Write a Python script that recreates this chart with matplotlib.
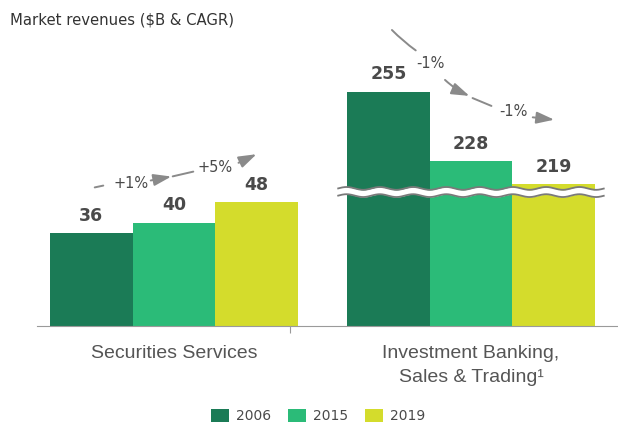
import numpy as np
import matplotlib.pyplot as plt
from matplotlib.patches import Patch, FancyArrowPatch

# data
groups = ["Securities Services", "Investment Banking,\nSales & Trading\u00b9"]
years = ["2006", "2015", "2019"]
sec_services = [36, 40, 48]
ib_trading = [255, 228, 219]
cagr_sec = ["+1%", "+5%"]
cagr_ib = ["-1%", "-1%"]

colors = ["#1b7b56", "#2bbb78", "#d4dc2c"]
text_col = "#4a4a4a"
arrow_col = "#8a8a8a"

# investment banking bars are drawn with a broken axis: this many $B are cut out
ib_cut = 164
break_level = 52

fig = plt.figure(figsize=(6.18, 4.26), dpi=100)
W, H = 618, 426
ax = fig.add_axes([37 / W, 1 - 326 / H, 1 - 37 / W, (326 - 40) / H])

width = 0.278
offsets = [-width, 0, width]
for i, yr in enumerate(years):
    ax.bar(0 + offsets[i], sec_services[i], width=width, color=colors[i], linewidth=0)
    ax.text(0 + offsets[i], sec_services[i] + 3.3, str(sec_services[i]), ha="center", va="bottom",
            fontsize=12.5, fontweight="bold", color=text_col)
    h = ib_trading[i] - ib_cut
    ax.bar(1 + offsets[i], h, width=width, color=colors[i], linewidth=0)
    ax.text(1 + offsets[i], h + 3.3, str(ib_trading[i]), ha="center", va="bottom",
            fontsize=12.5, fontweight="bold", color=text_col)

# wavy break band across the IB group
xs = np.linspace(1 - 1.5 * width - 0.03, 1 + 1.5 * width + 0.03, 400)
wave = 0.55 * np.sin((xs - xs[0]) / 0.112 * 2 * np.pi)
ax.fill_between(xs, break_level + 1.4 + wave, break_level - 1.4 + wave, color="white", zorder=3, linewidth=0)
ax.plot(xs, break_level + 1.4 + wave, color="#7a7a7a", lw=1.3, zorder=4)
ax.plot(xs, break_level - 1.4 + wave, color="#7a7a7a", lw=1.3, zorder=4)

ax.set_xlim(-0.461, 1.495)
ax.set_ylim(0, 111)
for s in ["top", "right", "left"]:
    ax.spines[s].set_visible(False)
ax.spines["bottom"].set_color("#9a9a9a")
ax.set_yticks([])
ax.set_xticks([0.39])
ax.set_xticklabels([""])
ax.tick_params(axis="x", length=5, color="#9a9a9a")

# category labels
for gx, g in zip([0, 1], groups):
    ax.text(gx, -7.3, g, ha="center", va="top", fontsize=14, color="#555555",
            family="Liberation Sans", linespacing=1.55)

# CAGR arrows (figure pixel positions)
def px(x, y):
    return (x / W, 1 - y / H)

def seg(p0, p1, head=False, rad=0.0):
    style = "-|>,head_length=0.9,head_width=0.3" if head else "-"
    fig.patches.append(FancyArrowPatch(
        px(*p0), px(*p1), transform=fig.transFigure, arrowstyle=style,
        mutation_scale=12, color=arrow_col, lw=1.4,
        connectionstyle=f"arc3,rad={rad}"))

seg((92, 188), (106, 185))
fig.text(*px(131, 184), cagr_sec[0], ha="center", va="center", fontsize=10.5, color=text_col)
seg((148, 181), (174, 176), head=True)
seg((170, 177), (196, 171))
fig.text(*px(215, 168), cagr_sec[1], ha="center", va="center", fontsize=10.5, color=text_col)
seg((236, 164), (259, 153), head=True)

seg((390, 28), (418, 52), rad=0.05)
fig.text(*px(430, 64), cagr_ib[0], ha="center", va="center", fontsize=10.5, color=text_col)
seg((443, 78), (472, 97), head=True, rad=0.1)
seg((470, 97), (494, 107))
fig.text(*px(513, 112), cagr_ib[1], ha="center", va="center", fontsize=10.5, color=text_col)
seg((530, 117), (557, 120), head=True)

fig.text(*px(10, 20), "Market revenues ($B & CAGR)", ha="left", va="center", fontsize=10.7, color="#333333")

handles = [Patch(facecolor=c, label=y) for c, y in zip(colors, years)]
fig.legend(handles=handles, loc="center", bbox_to_anchor=px(318, 416), ncol=3, frameon=False,
           fontsize=10, handlelength=1.3, handleheight=1.1, columnspacing=1.2, handletextpad=0.5,
           labelcolor=text_col)

fig.savefig("out.png", dpi=100)
